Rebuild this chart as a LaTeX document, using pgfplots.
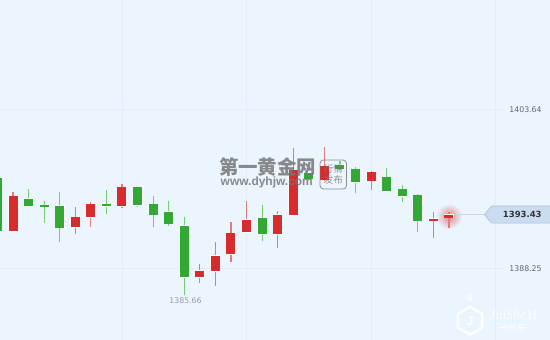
\documentclass[border=0pt]{standalone}
\usepackage{fontspec}
\setmainfont{DejaVu Sans}
\newfontfamily\cjk{Noto Sans CJK SC}
\newfontfamily\lib{Liberation Sans}
\newfontfamily\libser{Liberation Serif}
\usepackage{pgfplots}
\usepackage{pgfplotstable}
\pgfplotsset{compat=1.18}
\usetikzlibrary{shapes.geometric}
\definecolor{bg}{RGB}{235,245,254}
\definecolor{gridc}{RGB}{226,237,248}
\definecolor{rbody}{RGB}{214,44,46}
\definecolor{gbody}{RGB}{52,168,52}
\definecolor{rwick}{RGB}{226,122,126}
\definecolor{gwick}{RGB}{122,200,122}
\definecolor{lab}{RGB}{95,105,115}
\definecolor{lowlab}{RGB}{150,156,162}
\definecolor{tagfill}{RGB}{202,220,240}
\definecolor{tagdraw}{RGB}{170,190,212}
\definecolor{wm}{RGB}{118,118,118}
% rising candles (red): x low bottom(open) top(close) high
\pgfplotstableread{
x  low     bot     top     high
1  1391.85 1391.85 1395.24 1395.65
5  1391.56 1392.24 1393.23 1394.17
6  1392.29 1393.20 1394.46 1394.66
8  1394.13 1394.27 1396.11 1396.46
13 1386.87 1387.40 1388.04 1388.68
14 1386.55 1388.01 1389.49 1390.78
15 1388.85 1389.65 1391.66 1392.75
16 1391.75 1391.75 1392.97 1394.81
18 1390.26 1391.59 1393.46 1393.84
19 1393.40 1393.40 1397.78 1399.88
21 1396.72 1396.82 1398.17 1400.01
24 1395.85 1396.75 1397.56 1397.66
28 1391.23 1392.88 1393.07 1393.75
29 1392.14 1393.15 1393.43 1393.69
}\rising
% falling candles (green): x low bottom(close) top(open) high
\pgfplotstableread{
x  low     bot     top     high
0  1391.88 1391.88 1397.04 1397.04
2  1394.17 1394.30 1394.98 1395.97
3  1392.68 1394.23 1394.37 1394.75
4  1390.78 1392.20 1394.33 1395.68
7  1393.52 1394.30 1394.46 1395.85
9  1394.20 1394.37 1396.17 1396.23
10 1392.24 1393.46 1394.46 1395.24
11 1392.39 1392.56 1393.75 1394.81
12 1385.66 1387.42 1392.41 1393.20
17 1390.94 1391.59 1393.11 1394.40
20 1396.86 1396.96 1397.54 1397.59
22 1397.83 1397.93 1398.27 1398.65
23 1395.53 1396.59 1397.85 1398.07
25 1395.75 1395.75 1397.08 1398.01
26 1394.69 1395.24 1395.92 1396.30
27 1391.78 1392.88 1395.33 1395.46
}\falling
\pgfplotsset{
  wick/.style={draw=none, forget plot, error bars/.cd, y dir=plus, y explicit, error mark=none,
    error bar style={line width=1.1pt, #1}},
  bodyedge/.style={draw=none, forget plot, error bars/.cd, y dir=plus, y explicit, error mark=none,
    error bar style={line width=10bp, white, line cap=butt}},
  bodyfill/.style={draw=none, forget plot, error bars/.cd, y dir=plus, y explicit, error mark=none,
    error bar style={line width=9bp, #1, line cap=butt}},
}
\begin{document}
\begin{tikzpicture}
\begin{axis}[width=550bp, height=340bp, scale only axis, hide axis,
  xmin=0.165, xmax=35.489, ymin=1381.33, ymax=1414.24, clip=true]
\fill[bg] (rel axis cs:0,0) rectangle (rel axis cs:1,1);
% grid
\draw[gridc, line width=0.7pt] (axis cs:0.165,1403.64) -- (axis cs:32.47,1403.64);
\draw[gridc, line width=0.7pt] (axis cs:0.165,1388.25) -- (axis cs:32.47,1388.25);
\draw[gridc, line width=0.7pt] (axis cs:8,1381.33) -- (axis cs:8,1414.24);
\draw[gridc, line width=0.7pt] (axis cs:16,1381.33) -- (axis cs:16,1414.24);
\draw[gridc, line width=0.7pt] (axis cs:24,1381.33) -- (axis cs:24,1414.24);
\draw[gridc, line width=0.7pt] (axis cs:32,1381.33) -- (axis cs:32,1414.24);
% glow of the last candle
\node[circle, minimum size=26bp, inner sep=0, shading=radial, inner color=rbody!55!bg, outer color=bg]
  at (axis cs:29,1393.3) {};
% wicks
\addplot[wick=rwick] table[x=x, y=low, y error plus expr=\thisrow{high}-\thisrow{low}] {\rising};
\addplot[wick=gwick] table[x=x, y=low, y error plus expr=\thisrow{high}-\thisrow{low}] {\falling};
% bodies
\addplot[bodyedge] table[x=x, y expr=\thisrow{bot}-0.05, y error plus expr=\thisrow{top}-\thisrow{bot}+0.1] {\rising};
\addplot[bodyedge] table[x=x, y expr=\thisrow{bot}-0.05, y error plus expr=\thisrow{top}-\thisrow{bot}+0.1] {\falling};
\addplot[bodyfill=rbody] table[x=x, y=bot, y error plus expr=\thisrow{top}-\thisrow{bot}] {\rising};
\addplot[bodyfill=gbody] table[x=x, y=bot, y error plus expr=\thisrow{top}-\thisrow{bot}] {\falling};
% watermark
\node[font=\cjk\bfseries\fontsize{19.5}{20}\selectfont, text=wm, opacity=0.85, inner sep=0]
  at (axis cs:17.35,1398.03) {第一黄金网};
\node[font=\lib\bfseries\fontsize{12}{12}\selectfont, text=wm, opacity=0.85, inner sep=0]
  at (axis cs:17.3,1396.59) {www.dyhjw.com};
\node[draw=wm, line width=0.8pt, rounded corners=3.5bp, minimum width=26.5bp, minimum height=29bp,
  inner sep=0, align=center, font=\cjk\fontsize{9.5}{10.6}\selectfont, text=wm, opacity=0.8]
  at (axis cs:21.57,1397.35) {行情\\发布};
% low label
\node[font=\fontsize{7.8}{9}\selectfont, text=lowlab, inner sep=0] at (axis cs:12.08,1385.12) {1385.66};
% price ticks
\node[anchor=east, font=\fontsize{7.8}{9}\selectfont, text=lab, inner sep=0] at (axis cs:34.96,1403.64) {1403.64};
\node[anchor=east, font=\fontsize{7.8}{9}\selectfont, text=lab, inner sep=0] at (axis cs:34.96,1388.25) {1388.25};
% current price line and tag
\draw[color={rgb,255:red,205;green,215;blue,226}, line width=0.8pt] (axis cs:29.4,1393.45) -- (axis cs:31.3,1393.45);
\filldraw[fill=tagfill, draw=tagdraw, line width=0.6pt] (axis cs:31.27,1393.475) -- (axis cs:31.745,1394.30)
  -- (axis cs:35.8,1394.30) -- (axis cs:35.8,1392.65) -- (axis cs:31.745,1392.65) -- cycle;
\node[anchor=east, font=\bfseries\fontsize{8.5}{10}\selectfont, text=black!80, inner sep=0]
  at (axis cs:34.96,1393.475) {1393.43};
% logo (bottom right)
\node[regular polygon, regular polygon sides=6, shape border rotate=90, draw=white, line width=2.6bp,
  minimum size=28bp, inner sep=0, opacity=0.9, font=\lib\bfseries\fontsize{13}{13}\selectfont, text=white]
  at (axis cs:30.35,1383.2) {J};
\node[font=\fontsize{10}{10}\selectfont, text=white, opacity=0.9, inner sep=0]
  at (axis cs:30.35,1385.4) {♛};
\node[font=\libser\itshape\fontsize{14}{14}\selectfont, text=white, opacity=0.9, inner sep=0]
  at (axis cs:33.11,1383.75) {JinSheYi};
\node[font=\cjk\fontsize{7.5}{8}\selectfont, text=white, opacity=0.9, inner sep=0]
  at (axis cs:33.11,1382.55) {金蛇易};
\draw[white, opacity=0.9, line width=0.5pt] (axis cs:32.15,1382.55) -- (axis cs:32.7,1382.55);
\draw[white, opacity=0.9, line width=0.5pt] (axis cs:33.52,1382.55) -- (axis cs:34.07,1382.55);
\end{axis}
\end{tikzpicture}
\end{document}
